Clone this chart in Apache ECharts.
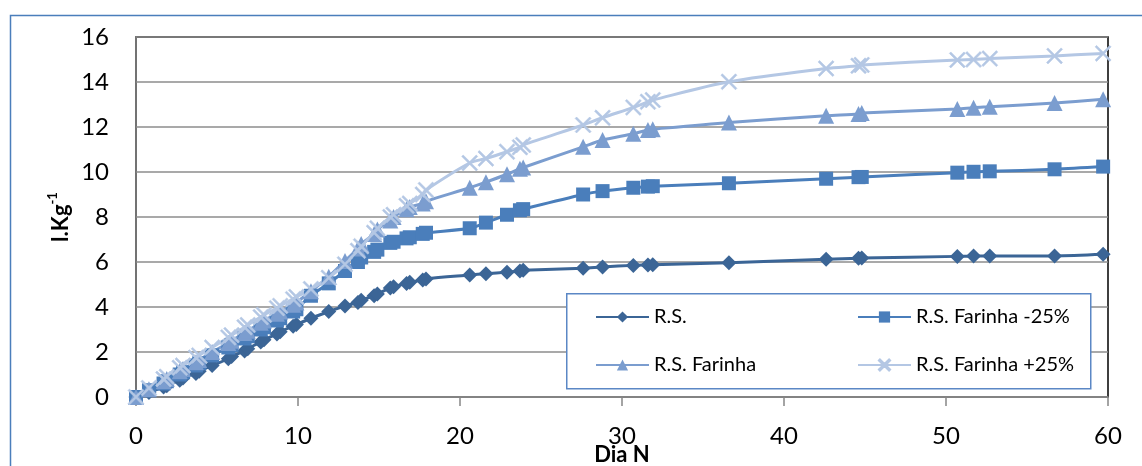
<!DOCTYPE html>
<html>
<head>
<meta charset="utf-8">
<script src="https://cdn.jsdelivr.net/npm/echarts@6/dist/echarts.min.js"></script>
<style>
html,body{margin:0;padding:0;background:#fff;}
#chart{width:1142px;height:466px;}
</style>
</head>
<body>
<div id="chart"></div>
<script>
const days = [0, 0.8, 1.7, 1.9, 2.7, 2.9, 3.7, 3.9, 4.7, 5.7,
  5.9, 6.7, 6.9, 7.7, 7.9, 8.7, 8.9, 9.7, 9.9, 10.8,
  11.9, 12.9, 13.7, 13.9, 14.7, 14.9, 15.7, 15.9, 16.7, 16.9,
  17.7, 17.9, 20.6, 21.6, 22.9, 23.7, 23.9, 27.6, 28.8, 30.7,
  31.6, 31.9, 36.6, 42.6, 44.6, 44.8, 50.7, 51.7, 52.7, 56.7,
  59.7];
const rs = [0, 0.2, 0.45, 0.5, 0.75, 0.85, 1.05, 1.15, 1.4, 1.7,
  1.8, 2.05, 2.15, 2.45, 2.55, 2.8, 2.9, 3.15, 3.22, 3.5,
  3.8, 4.05, 4.2, 4.3, 4.5, 4.58, 4.85, 4.9, 5.05, 5.1,
  5.2, 5.25, 5.42, 5.48, 5.55, 5.6, 5.63, 5.72, 5.78, 5.85,
  5.87, 5.88, 5.97, 6.12, 6.17, 6.18, 6.25, 6.27, 6.27, 6.27,
  6.34];
const rsMinus25 = [0, 0.3, 0.6, 0.7, 1.0, 1.1, 1.4, 1.5, 1.85, 2.2,
  2.3, 2.6, 2.7, 3.0, 3.1, 3.4, 3.5, 3.8, 3.9, 4.5,
  5.05, 5.6, 6.0, 6.2, 6.45, 6.55, 6.85, 6.9, 7.05, 7.1,
  7.25, 7.3, 7.5, 7.75, 8.1, 8.3, 8.35, 9.0, 9.15, 9.3,
  9.35, 9.37, 9.5, 9.7, 9.77, 9.78, 9.97, 10.01, 10.03, 10.12,
  10.24];
const rsFarinha = [0, 0.35, 0.7, 0.8, 1.15, 1.25, 1.55, 1.65, 2.0, 2.4,
  2.5, 2.85, 2.95, 3.3, 3.4, 3.7, 3.8, 4.1, 4.2, 4.7,
  5.35, 6.05, 6.6, 6.8, 7.25, 7.45, 7.85, 8.0, 8.35, 8.45,
  8.6, 8.7, 9.3, 9.55, 9.9, 10.15, 10.2, 11.12, 11.42, 11.7,
  11.87, 11.9, 12.2, 12.5, 12.58, 12.62, 12.8, 12.86, 12.9, 13.07,
  13.23];
const rsPlus25 = [0, 0.4, 0.8, 0.9, 1.3, 1.4, 1.75, 1.85, 2.2, 2.65,
  2.75, 3.1, 3.2, 3.55, 3.65, 3.95, 4.05, 4.35, 4.45, 4.8,
  5.3, 5.9, 6.5, 6.7, 7.3, 7.5, 8.0, 8.1, 8.5, 8.6,
  9.0, 9.2, 10.4, 10.6, 10.9, 11.1, 11.2, 12.09, 12.41, 12.87,
  13.12, 13.2, 14.01, 14.6, 14.72, 14.76, 14.98, 15.0, 15.04, 15.16,
  15.27];
const seriesNames = ['R.S.', 'R.S. Farinha -25%', 'R.S. Farinha', 'R.S. Farinha +25%'];
const xTicks = [0, 10, 20, 30, 40, 50, 60];
const yTicks = [0, 2, 4, 6, 8, 10, 12, 14, 16];

const FONT = 'Lato, "Liberation Sans", sans-serif';
const colors = ['#3b6596', '#4a7ebb', '#7b9dcf', '#b4c7e4'];
const symbols = ['diamond', 'rect',  'triangle',
  'path://M0,0.9 L0.9,0 L5,4.1 L9.1,0 L10,0.9 L5.9,5 L10,9.1 L9.1,10 L5,5.9 L0.9,10 L0,9.1 L4.1,5 Z'];
const symSizes = [15, 14, 16, 16];
const values = [rs, rsMinus25, rsFarinha, rsPlus25];

const chart = echarts.init(document.getElementById('chart'), null, {renderer: 'canvas'});

const series = seriesNames.map((name, k) => ({
  name: name,
  type: 'line',
  data: days.map((d, i) => [d, values[k][i]]),
  smooth: 0.3,
  symbol: symbols[k],
  symbolSize: symSizes[k],
  showAllSymbol: true,
  lineStyle: {color: colors[k], width: 3},
  itemStyle: {color: colors[k], borderColor: colors[k], borderWidth: k === 3 ? 0.6 : 0},
  emphasis: {disabled: true},
  animation: false
}));

const legendPos = [
  {left: 595, top: 307},
  {left: 857, top: 307},
  {left: 595, top: 355},
  {left: 857, top: 355}
];
const legends = seriesNames.map((name, k) => ({
  data: [name],
  left: legendPos[k].left,
  top: legendPos[k].top,
  padding: 0,
  itemWidth: 53,
  itemHeight: 14,
  itemGap: 4,
  z: 6,
  selectedMode: false,
  textStyle: {fontFamily: FONT, fontSize: 20, color: '#000', padding: [0, 0, 0, 0]}
}));

chart.setOption({
  animation: false,
  backgroundColor: '#fff',
  grid: {left: 136, right: 34, top: 37, bottom: 69, containLabel: false, outerBoundsMode: 'none',
    show: true, borderColor: '#000', borderWidth: 1.5, backgroundColor: 'transparent'},
  legend: legends,
  xAxis: {
    type: 'value', min: xTicks[0], max: xTicks[xTicks.length - 1], interval: 10,
    name: 'Dia N', nameLocation: 'middle', nameGap: 58, nameMoveOverlap: false,
    nameTextStyle: {fontFamily: FONT, fontSize: 22, fontWeight: 'bold', color: '#000', verticalAlign: 'middle'},
    axisLine: {show: true, lineStyle: {color: '#868686', width: 1.5}},
    axisTick: {show: true, length: 9, inside: false, lineStyle: {color: '#868686', width: 1.5}},
    axisLabel: {fontFamily: FONT, fontSize: 24, color: '#000', margin: 27},
    splitLine: {show: false}
  },
  yAxis: {
    type: 'value', min: yTicks[0], max: yTicks[yTicks.length - 1], interval: 2,
    name: '{b|l.Kg}{sup|-1}', nameLocation: 'middle', nameGap: 64, nameRotate: 90, nameMoveOverlap: false,
    nameTextStyle: {
      rich: {
        b: {fontFamily: FONT, fontSize: 22, fontWeight: 'bold', color: '#000', lineHeight: 26, verticalAlign: 'bottom'},
        sup: {fontFamily: FONT, fontSize: 13, fontWeight: 'bold', color: '#000', lineHeight: 26, verticalAlign: 'top', padding: [0, 0, 11, 0]}
      }
    },
    axisLine: {show: true, lineStyle: {color: '#868686', width: 1.5}},
    axisTick: {show: false},
    axisLabel: {fontFamily: FONT, fontSize: 24, color: '#000', margin: 27},
    splitLine: {show: true, lineStyle: {color: '#8c8c8c', width: 1.5}}
  },
  graphic: [
    {type: 'rect', left: 8, top: 13, z: -10, silent: true,
      shape: {width: 1200, height: 500},
      style: {fill: 'none', stroke: '#4a7ebb', lineWidth: 1.5}},
    {type: 'rect', left: 566, top: 293, z: 5, silent: true,
      shape: {width: 524, height: 95},
      style: {fill: '#fff', stroke: '#5b87c5', lineWidth: 1.5}}
  ],
  series: series
});
</script>
</body>
</html>
